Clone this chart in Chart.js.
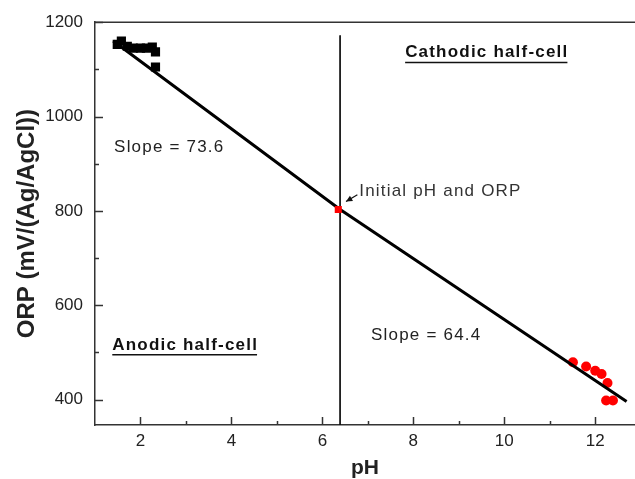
<!DOCTYPE html>
<html>
<head>
<meta charset="utf-8">
<script src="https://cdn.jsdelivr.net/npm/chart.js@4/dist/chart.umd.min.js"></script>
<style>
  html, body { margin: 0; padding: 0; background: #fff; }
  #wrap { width: 635px; height: 479px; }
</style>
</head>
<body>
<div id="wrap"><canvas id="orpChart" width="635" height="479"></canvas></div>
<script>
// anodic side samples (black squares)
const acidPH  = [1.49, 1.58, 1.71, 1.84, 2.00, 2.13, 2.26, 2.33, 2.33];
const acidORP = [1153, 1160, 1149, 1145, 1145, 1145, 1147, 1137, 1105];

// cathodic side samples (red)
const basePH  = [11.51, 11.80, 12.00, 12.14, 12.27, 12.24, 12.39];
const baseORP = [479, 470, 461, 454, 435, 398, 398];

// starting solution
const initPH  = [6.35];
const initORP = [803];

// two fitted segments meeting at the initial point
const fitPH  = [1.40, 6.39, 12.69];
const fitORP = [1160, 803, 396];

// divider between the half-cells
const splitPH  = [6.39, 6.39];
const splitORP = [1172, 346];

// axes
const xTickValues = [2, 3, 4, 5, 6, 7, 8, 9, 10, 11, 12];
const yTickValues = [400, 500, 600, 700, 800, 900, 1000, 1100, 1200];
const xLabelValues = [2, 4, 6, 8, 10, 12];
const yLabelValues = [400, 600, 800, 1000, 1200];

const FONT = '"Liberation Sans", Arial, sans-serif';

// text notes placed in data units
const notes = [
    { text: 'Cathodic half-cell', x: 7.82, y: 1136, bold: true, underline: true, color: '#111' },
    { text: 'Slope = 73.6', x: 1.42, y: 935, bold: false, underline: false, color: '#222' },
    { text: 'Initial pH and ORP', x: 6.81, y: 842, bold: false, underline: false, color: '#333' },
    { text: 'Anodic half-cell', x: 1.38, y: 516, bold: true, underline: true, color: '#111' },
    { text: 'Slope = 64.4', x: 7.07, y: 537, bold: false, underline: false, color: '#222' }
];
const arrowFrom = { x: 6.77, y: 834 };
const arrowTo = { x: 6.52, y: 820 };

const toPoints = (xs, ys) => xs.map((v, i) => ({ x: v, y: ys[i] }));

const overlay = {
    id: 'overlay',
    afterDatasetsDraw(chart) {
        const { ctx, chartArea: a, scales: { x, y } } = chart;
        ctx.save();
        ctx.strokeStyle = '#333';
        ctx.lineWidth = 1.5;

        // top frame line
        ctx.beginPath();
        ctx.moveTo(a.left, a.top);
        ctx.lineTo(a.right, a.top);
        ctx.stroke();

        // inward ticks, major long, minor short
        xTickValues.forEach(v => {
            const px = Math.round(x.getPixelForValue(v)) + 0.5;
            const len = xLabelValues.includes(v) ? 8 : 4;
            ctx.beginPath();
            ctx.moveTo(px, a.bottom);
            ctx.lineTo(px, a.bottom - len);
            ctx.stroke();
        });
        yTickValues.forEach(v => {
            const py = Math.round(y.getPixelForValue(v)) + 0.5;
            const len = yLabelValues.includes(v) ? 8 : 4;
            ctx.beginPath();
            ctx.moveTo(a.left, py);
            ctx.lineTo(a.left + len, py);
            ctx.stroke();
        });

        // notes
        ctx.textAlign = 'left';
        ctx.textBaseline = 'middle';
        notes.forEach(n => {
            ctx.font = (n.bold ? 'bold ' : '') + '17px ' + FONT;
            ctx.letterSpacing = '1.2px';
            ctx.fillStyle = n.color;
            const px = x.getPixelForValue(n.x);
            const py = y.getPixelForValue(n.y);
            ctx.fillText(n.text, px, py);
            if (n.underline) {
                const w = ctx.measureText(n.text).width;
                ctx.strokeStyle = n.color;
                ctx.lineWidth = 1.5;
                ctx.beginPath();
                ctx.moveTo(px, py + 10);
                ctx.lineTo(px + w - 1, py + 10);
                ctx.stroke();
            }
        });

        // arrow toward the initial point
        const x1 = x.getPixelForValue(arrowFrom.x), y1 = y.getPixelForValue(arrowFrom.y);
        const x2 = x.getPixelForValue(arrowTo.x), y2 = y.getPixelForValue(arrowTo.y);
        const ang = Math.atan2(y2 - y1, x2 - x1);
        ctx.strokeStyle = '#111';
        ctx.fillStyle = '#111';
        ctx.lineWidth = 1.2;
        ctx.beginPath();
        ctx.moveTo(x1, y1);
        ctx.lineTo(x2, y2);
        ctx.stroke();
        ctx.beginPath();
        ctx.moveTo(x2, y2);
        ctx.lineTo(x2 - 7 * Math.cos(ang - 0.45), y2 - 7 * Math.sin(ang - 0.45));
        ctx.lineTo(x2 - 7 * Math.cos(ang + 0.45), y2 - 7 * Math.sin(ang + 0.45));
        ctx.closePath();
        ctx.fill();
        ctx.restore();
    }
};

const ctx = document.getElementById('orpChart').getContext('2d');
new Chart(ctx, {
    type: 'scatter',
    data: {
        datasets: [
            { label: 'Initial', data: toPoints(initPH, initORP), pointStyle: 'rect', pointRadius: 5, backgroundColor: '#ff0000', borderWidth: 0 },
            { label: 'Fit', type: 'line', data: toPoints(fitPH, fitORP), borderColor: '#000', borderWidth: 3, pointRadius: 0, fill: false, tension: 0 },
            { label: 'Split', type: 'line', data: toPoints(splitPH, splitORP), borderColor: '#111', borderWidth: 1, pointRadius: 0, fill: false },
            { label: 'Cathodic', data: toPoints(basePH, baseORP), pointStyle: 'circle', pointRadius: 5, backgroundColor: '#ff0000', borderWidth: 0 },
            { label: 'Anodic', data: toPoints(acidPH, acidORP), pointStyle: 'rect', pointRadius: 6.5, backgroundColor: '#000', borderWidth: 0 }
        ]
    },
    options: {
        responsive: false,
        animation: false,
        layout: { autoPadding: false, padding: { top: 22, right: 0, left: 0, bottom: 0 } },
        plugins: { legend: { display: false }, tooltip: { enabled: false } },
        scales: {
            x: {
                type: 'linear',
                min: 1,
                max: 12.875,
                afterBuildTicks: s => { s.ticks = xLabelValues.map(v => ({ value: v })); },
                afterFit: s => { s.height = 54; s.paddingRight = 0; s.paddingLeft = 0; },
                grid: { display: false, drawTicks: false },
                border: { display: true, color: '#333', width: 1.5 },
                ticks: { padding: 6, color: '#222', font: { family: FONT, size: 17 }, callback: v => String(v) },
                title: { display: true, text: 'pH', color: '#222', padding: { top: 0, bottom: 0 },
                         font: { family: FONT, size: 21, weight: 'bold', lineHeight: 1 } }
            },
            y: {
                type: 'linear',
                min: 346,
                max: 1200,
                afterBuildTicks: s => { s.ticks = yLabelValues.map(v => ({ value: v })); },
                afterFit: s => { s.width = 95; },
                grid: { display: false, drawTicks: false },
                border: { display: true, color: '#333', width: 1.5 },
                ticks: { padding: 12, color: '#222', font: { family: FONT, size: 17 }, callback: v => String(v) },
                title: { display: true, text: 'ORP (mV/(Ag/AgCl))', color: '#222', padding: { top: 15, bottom: 0 },
                         font: { family: FONT, size: 24, weight: 'bold', lineHeight: 1 } }
            }
        }
    },
    plugins: [overlay]
});
</script>
</body>
</html>
